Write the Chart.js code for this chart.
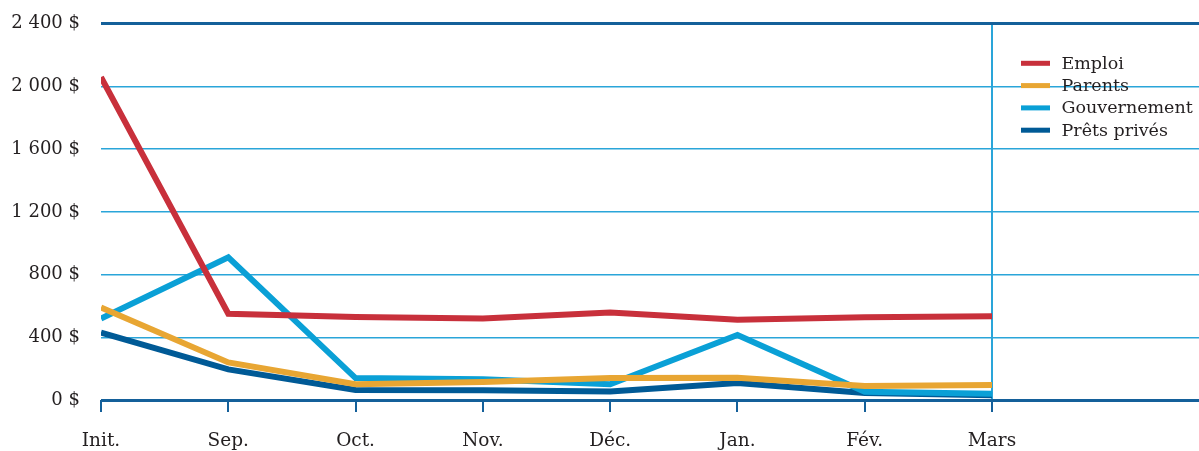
<!DOCTYPE html>
<html>
<head>
<meta charset="utf-8">
<script src="https://cdn.jsdelivr.net/npm/chart.js@4.4.1/dist/chart.umd.min.js"></script>
<style>
  html, body { margin: 0; padding: 0; background: #ffffff; }
  #wrap { position: relative; width: 1199px; height: 451px; }
</style>
</head>
<body>
<div id="wrap"><canvas id="c"></canvas></div>
<script>
// ---- Data ----
const months = ["Init.", "Sep.", "Oct.", "Nov.", "Déc.", "Jan.", "Fév.", "Mars"];
const seriesNames = ["Emploi", "Parents", "Gouvernement", "Prêts privés"];
const emploi       = [2060, 550, 530, 520, 558, 512, 528, 535];
const parents      = [590, 240, 100, 115, 140, 142, 90, 95];
const gouvernement = [520, 910, 140, 132, 100, 415, 52, 40];
const pretsPrives  = [430, 195, 64, 62, 55, 108, 45, 30];
const yTicks = [0, 400, 800, 1200, 1600, 2000, 2400];

const colors = ["#C8303B", "#E8A633", "#0AA0D6", "#005A96"];
const allSeries = [emploi, parents, gouvernement, pretsPrives];

const FONT = "'DejaVu Serif', serif";
const DARK = "#14609A";
const GRID = "#2AA5D9";

function fmtMoney(v) {
  return String(v).replace(/\B(?=(\d{3})+(?!\d))/g, " ") + " $";
}

const datasets = allSeries.map((vals, i) => ({
  label: seriesNames[i],
  data: vals.map((v, k) => ({ x: k, y: v })),
  borderColor: colors[i],
  backgroundColor: colors[i],
  borderWidth: 6,
  pointRadius: 0,
  tension: 0,
  fill: false
}));

const legendPlugin = {
  id: "customLegend",
  afterDraw(chart) {
    const ctx = chart.ctx;
    ctx.save();
    ctx.font = "17.5px " + FONT;
    ctx.textBaseline = "middle";
    ctx.textAlign = "left";
    chart.data.datasets.forEach((ds, i) => {
      const y = 63.3 + i * 22.3;
      ctx.fillStyle = ds.borderColor;
      ctx.fillRect(1021, y - 2.5, 29, 5);
      ctx.fillStyle = "#231F20";
      ctx.fillText(ds.label, 1061.5, y + 1);
    });
    ctx.restore();
  }
};

new Chart(document.getElementById("c"), {
  type: "line",
  data: { datasets },
  options: {
    responsive: true,
    maintainAspectRatio: false,
    animation: false,
    layout: { padding: { top: 0, right: 0, bottom: 0, left: 0 } },
    plugins: {
      legend: { display: false },
      tooltip: { enabled: false }
    },
    scales: {
      x: {
        type: "linear",
        min: 0,
        max: 8.626,
        afterFit(scale) { scale.height = 51; },
        border: { display: false },
        grid: {
          drawOnChartArea: true,
          drawTicks: true,
          tickLength: 12,
          lineWidth: 2,
          color: (ctx) => (ctx.tick && ctx.tick.value === months.length - 1) ? GRID : "rgba(0,0,0,0)",
          tickColor: (ctx) => (ctx.tick && ctx.tick.value <= months.length - 1) ? DARK : "rgba(0,0,0,0)"
        },
        ticks: {
          stepSize: 1,
          autoSkip: false,
          includeBounds: false,
          maxRotation: 0,
          padding: 18,
          color: "#231F20",
          font: { family: FONT, size: 18.5 },
          callback: (v) => (Number.isInteger(v) && months[v] !== undefined) ? months[v] : ""
        }
      },
      y: {
        min: 0,
        max: 2400,
        afterFit(scale) { scale.width = 101; },
        afterBuildTicks(scale) { scale.ticks = yTicks.map(v => ({ value: v })); },
        border: { display: false },
        grid: {
          drawTicks: true,
          tickLength: 8,
          tickColor: "rgba(0,0,0,0)",
          color: (ctx) => (ctx.tick && (ctx.tick.value === 0 || ctx.tick.value === 2400)) ? DARK : GRID,
          lineWidth: (ctx) => (ctx.tick && (ctx.tick.value === 0 || ctx.tick.value === 2400)) ? 3 : 1.5
        },
        ticks: {
          padding: 13,
          color: "#231F20",
          font: { family: FONT, size: 18 },
          callback: (v) => fmtMoney(v)
        }
      }
    }
  },
  plugins: [legendPlugin]
});
</script>
</body>
</html>
